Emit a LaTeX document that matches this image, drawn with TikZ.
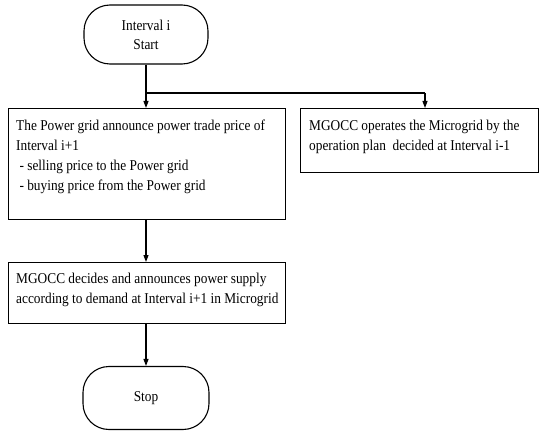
\documentclass[tikz,border=0pt]{standalone}
\usepackage{fontspec}
\setmainfont{Liberation Serif}[FakeStretch=0.89]
\usetikzlibrary{arrows.meta}
\tikzset{
  x=1pt, y=1pt,
  every node/.style={font=\fontsize{15}{20}\selectfont},
  terminal/.style={draw, line width=1.1pt, rounded corners=26pt, align=center},
  procbox/.style={draw, line width=1.1pt, anchor=north west},
  boxtext/.style={anchor=north west, align=left, inner sep=0pt},
  flow/.style={line width=1.1pt, -{Triangle[length=7pt, width=5pt]}},
  link/.style={line width=1.1pt}
}
\begin{document}
\begin{tikzpicture}
\useasboundingbox (0,0) rectangle (544,-433);

% start / stop terminals
\node[terminal, minimum width=124, minimum height=59] (start) at (146,-34.5)
  {Interval i\\[-1pt]Start};
\node[terminal, minimum width=126, minimum height=63] (stop) at (146,-398) {Stop};

% process boxes
\node[procbox, minimum width=277, minimum height=111] (price) at (8,-108) {};
\node[boxtext] (pricetxt) at (16,-120)
  {The Power grid announce power trade price of\\
   Interval i+1\\
   \ - selling price to the Power grid\\
   \ - buying price from the Power grid};

\node[procbox, minimum width=238, minimum height=64] (operate) at (300,-108) {};
\node[boxtext] (operatetxt) at (309,-120)
  {MGOCC operates the Microgrid by the\\
   operation plan\ \ decided at Interval i-1};

\node[procbox, minimum width=277, minimum height=61] (supply) at (8,-262) {};
\node[boxtext] (supplytxt) at (16,-273)
  {MGOCC decides and announces power supply\\
   according to demand at Interval i+1 in Microgrid};

% connectors
\coordinate (split) at (146,-93);
\coordinate (branch) at (425,-93);
\draw[link] (start.south) -- (split) -- (branch);
\draw[flow] (split) -- (price.north -| split);
\draw[flow] (branch) -- (operate.north -| branch);
\draw[flow] (price.south -| split) -- (supply.north -| split);
\draw[flow] (supply.south -| split) -- (stop.north);
\end{tikzpicture}
\end{document}
